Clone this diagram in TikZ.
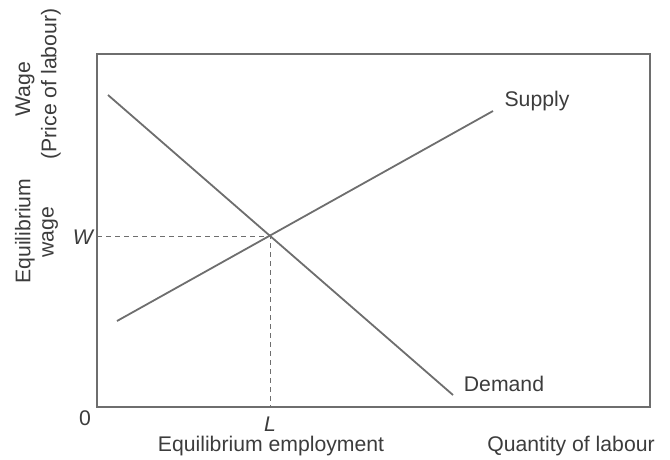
\documentclass[tikz,border=0pt]{standalone}
\usepackage{fontspec}
\setmainfont{Liberation Sans}
\definecolor{txt}{HTML}{3C3C3C}
\definecolor{ln}{HTML}{6E6E6E}
\begin{document}
\begin{tikzpicture}[x=1pt,y=-1pt,
  lbl/.style={text=txt,font=\fontsize{21.2}{23}\selectfont,inner sep=0pt},
  curve/.style={draw=ln,line width=1.8pt},
  guide/.style={draw=ln,line width=0.9pt,dash pattern=on 5pt off 4pt}]
\useasboundingbox (0,0) rectangle (670,459);
\draw[draw=ln,line width=1.2pt] (97,54) rectangle (650,407);
\coordinate (frameL) at (97,236);
\coordinate (frameB) at (270,407);
\coordinate (sA) at (117,321);
\coordinate (sB) at (493,111);
\coordinate (dA) at (108,95);
\coordinate (dB) at (453,395);
\coordinate (E) at (270,236);
\draw[guide] (frameL) -- (E) -- (frameB);
\draw[curve] (sA) -- (sB);
\draw[curve] (dA) -- (dB);
\node[lbl] (supply) at (537,101) {Supply};
\node[lbl] (demand) at (504,384) {Demand};
\node[lbl] (zero) at (85,418) {0};
\node[lbl] (L) at (270,424) {\itshape L};
\node[lbl] (W) at (83,237) {\itshape W};
\node[lbl] (eqemp) at (271,446) {Equilibrium employment};
\node[lbl] (qty) at (571,446) {Quantity of labour};
\node[lbl,rotate=90] (wage) at (25,89) {Wage};
\node[lbl,rotate=90] (price) at (51,84) {(Price of labour)};
\node[lbl,rotate=90] (eqw1) at (25,231) {Equilibrium};
\node[lbl,rotate=90] (eqw2) at (50,232) {wage};
\end{tikzpicture}
\end{document}
